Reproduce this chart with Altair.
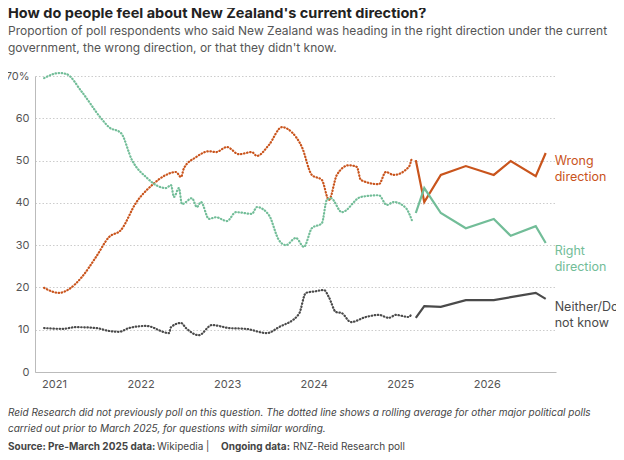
import altair as alt
import pandas as pd

# Pre-March 2025: rolling average of other polls (dotted)
wrong_x = [2020.885, 2021.058, 2021.173, 2021.323, 2021.485, 2021.635, 2021.774, 2021.947,
           2022.132, 2022.293, 2022.409, 2022.467, 2022.501, 2022.640, 2022.790, 2022.871,
           2022.998, 2023.136, 2023.286, 2023.344, 2023.483, 2023.633, 2023.748, 2023.864,
           2023.979, 2024.095, 2024.176, 2024.268, 2024.406, 2024.499, 2024.545, 2024.753,
           2024.834, 2024.926, 2025.099, 2025.134]
wrong_y = [19.9, 18.7, 19.6, 22.5, 27.2, 31.9, 33.6, 40.0, 44.2, 46.6, 47.3, 46.1, 48.2, 50.8,
           52.2, 52.0, 53.2, 51.5, 52.0, 51.1, 53.7, 57.9, 56.7, 53.2, 46.6, 45.4, 40.7, 46.6,
           48.9, 48.5, 45.4, 44.4, 47.3, 46.6, 48.5, 50.6]

right_x = [2020.885, 2021.058, 2021.139, 2021.323, 2021.543, 2021.635, 2021.774, 2021.901,
           2022.074, 2022.178, 2022.293, 2022.351, 2022.386, 2022.443, 2022.478, 2022.594,
           2022.651, 2022.697, 2022.790, 2022.871, 2022.998, 2023.102, 2023.286, 2023.344,
           2023.483, 2023.598, 2023.679, 2023.794, 2023.887, 2023.979, 2024.095, 2024.152,
           2024.199, 2024.326, 2024.545, 2024.753, 2024.845, 2024.926, 2025.065, 2025.134]
right_y = [69.5, 70.7, 70.5, 66.2, 60.0, 57.9, 56.5, 50.1, 45.9, 44.2, 43.5, 44.2, 41.4, 43.5,
           39.7, 41.1, 39.0, 40.2, 36.2, 36.6, 35.7, 37.8, 37.4, 39.0, 37.1, 31.2, 30.0, 31.7,
           29.6, 34.0, 35.2, 40.7, 41.1, 37.8, 41.4, 41.8, 39.5, 40.2, 38.8, 35.9]

neither_x = [2020.885, 2021.092, 2021.254, 2021.485, 2021.635, 2021.751, 2021.866, 2022.062,
             2022.328, 2022.351, 2022.467, 2022.524, 2022.674, 2022.824, 2023.021, 2023.217,
             2023.460, 2023.598, 2023.829, 2023.910, 2024.025, 2024.118, 2024.176, 2024.256,
             2024.326, 2024.430, 2024.603, 2024.753, 2024.868, 2024.949, 2025.099, 2025.134]
neither_y = [10.4, 10.2, 10.6, 10.4, 9.7, 9.5, 10.4, 10.9, 9.2, 10.6, 11.6, 10.4, 8.7, 11.1,
             10.4, 10.2, 9.2, 10.6, 13.7, 18.7, 19.1, 19.4, 17.7, 14.2, 13.9, 11.8, 13.0, 13.5,
             12.8, 13.5, 13.0, 13.9]

# RNZ-Reid Research poll (solid)
poll_x = [2025.180, 2025.278, 2025.469, 2025.758, 2026.081, 2026.277, 2026.566, 2026.681]
poll_wrong = [50.1, 40.2, 46.6, 48.7, 46.6, 49.9, 46.3, 51.8]
poll_right = [37.6, 43.5, 37.6, 34.0, 36.2, 32.2, 34.5, 30.5]
poll_neither = [12.8, 15.6, 15.4, 17.0, 17.0, 17.7, 18.7, 17.3]

series = ["Wrong direction", "Right direction", "Neither/Do not know"]
labels = ["Wrong\ndirection", "Right\ndirection", "Neither/Do\nnot know"]
line_colors = ["#c9541c", "#72bd98", "#4a4a4a"]
label_colors = ["#c9541c", "#4f9a74", "#555555"]

rows = []
for s, xs, ys in zip(series, [wrong_x, right_x, neither_x], [wrong_y, right_y, neither_y]):
    rows += [{"series": s, "year": x, "value": y, "seg": "rolling"} for x, y in zip(xs, ys)]
for s, ys in zip(series, [poll_wrong, poll_right, poll_neither]):
    rows += [{"series": s, "year": x, "value": y, "seg": "poll"} for x, y in zip(poll_x, ys)]
df = pd.DataFrame(rows)

ends = pd.DataFrame({"series": series, "label": labels,
                     "year": [poll_x[-1]] * 3,
                     "value": [poll_wrong[-1], poll_right[-1], poll_neither[-1]]})

FONT = "Inter"
GREY = "#444444"
xscale = alt.Scale(domain=[2020.78, 2026.8], nice=False)
yscale = alt.Scale(domain=[0, 70], nice=False)
color = alt.Color("series:N", scale=alt.Scale(domain=series, range=line_colors), legend=None)

x_enc = alt.X("year:Q", scale=xscale, title=None,
              axis=alt.Axis(values=[2021, 2022, 2023, 2024, 2025, 2026], format="d",
                            grid=False, ticks=False, labelPadding=6, domainColor="#bbbbbb",
                            labelColor="#555555", labelFontSize=11, labelFont=FONT))
y_enc = alt.Y("value:Q", scale=yscale, title=None,
              axis=alt.Axis(values=list(range(0, 71, 10)), ticks=False, labelPadding=6,
                            labelExpr="datum.value == 70 ? '70%' : datum.label",
                            gridDash=[1.5, 2], gridColor="#cccccc", domainColor="#bbbbbb",
                            labelColor="#555555", labelFontSize=11, labelFont=FONT))

dotted = alt.Chart(df).transform_filter("datum.seg == 'rolling'").mark_line(
    strokeWidth=2.2, strokeDash=[0.5, 2.6], strokeCap="round", interpolate="monotone"
).encode(x=x_enc, y=y_enc, color=color)

solid = alt.Chart(df).transform_filter("datum.seg == 'poll'").mark_line(
    strokeWidth=2.2
).encode(x="year:Q", y="value:Q", color=color)

end_labels = alt.Chart(ends).mark_text(
    align="left", baseline="middle", dx=9, dy=8, fontSize=12.5, font=FONT, lineBreak="\n",
    lineHeight=16
).encode(x="year:Q", y="value:Q", text="label:N",
         color=alt.Color("series:N", scale=alt.Scale(domain=series, range=label_colors),
                         legend=None))

# footnote and source lines, in pixel positions relative to the plot
notes = pd.DataFrame({
    "t": ["Reid Research did not previously poll on this question. The dotted line shows a rolling average for other major political polls",
          "carried out prior to March 2025, for questions with similar wording."],
    "px": [-27, -27], "py": [337, 353]})
source = pd.DataFrame({
    "t": ["Source:", "Pre-March 2025 data:", "Wikipedia  |", "Ongoing data:", "RNZ-Reid Research poll"],
    "px": [-27, 13, 122, 186, 258], "py": [371] * 5,
    "bold": [True, True, False, True, False]})

def text_layer(d, style="normal", weight="normal"):
    return alt.Chart(d).mark_text(
        align="left", baseline="middle", fontSize=10, font=FONT, color=GREY,
        fontStyle=style, fontWeight=weight
    ).encode(x=alt.X("px:Q", scale=None), y=alt.Y("py:Q", scale=None), text="t:N")

note_text = text_layer(notes, style="italic")
src_bold = text_layer(source[source["bold"]], weight="bold")
src_plain = text_layer(source[~source["bold"]])

chart = alt.layer(dotted, solid, end_labels, note_text, src_bold, src_plain).properties(
    width=521, height=296,
    autosize=alt.AutoSizeParams(type="none"),
    padding={"left": 27, "top": 68, "right": 60, "bottom": 80},
    title=alt.TitleParams(
        text="How do people feel about New Zealand's current direction?",
        subtitle=["Proportion of poll respondents who said New Zealand was heading in the right direction under the current",
                  "government, the wrong direction, or that they didn't know."],
        anchor="start", frame="group", dx=-27, offset=14,
        font=FONT, fontSize=14.5, fontWeight="bold", color="#222222",
        subtitleFont=FONT, subtitleFontSize=12, subtitleColor="#555555", subtitlePadding=4,
        subtitleLineHeight=17,
    ),
).configure_view(stroke=None)

chart.save("out.html", embed_options={"renderer": "svg", "actions": False})
